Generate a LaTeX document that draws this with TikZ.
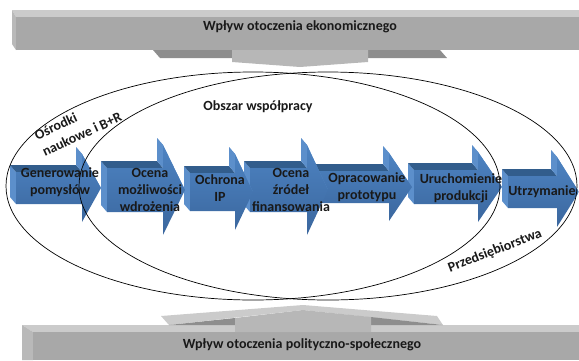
\documentclass[tikz,border=0pt]{standalone}
\usepackage{fontspec}
\setmainfont{Carlito}
\usepackage{xcolor}
\usepackage{tikz}

\definecolor{przod}{HTML}{4D83C2}
\definecolor{przodciemny}{HTML}{3B679E}
\definecolor{gora}{HTML}{325D8C}
\definecolor{bok}{HTML}{5C8FCB}
\definecolor{szary}{HTML}{A8A8A8}
\definecolor{szaryjasny}{HTML}{CBCBCB}
\definecolor{szarybok}{HTML}{B9B9B9}
\definecolor{szaryciemny}{HTML}{8E8E8E}
\definecolor{szarysrodek}{HTML}{B7B7B7}

\begin{document}
\begin{tikzpicture}[x=1pt,y=-1pt,
   napis/.style={font=\bfseries\fontsize{14}{17}\selectfont,align=center,text=black!90},
   etykieta/.style={font=\bfseries\fontsize{14}{18}\selectfont,text=black!90},
   elipsa/.style={draw=black,line width=0.7pt}]

  \useasboundingbox (0,0) rectangle (579,360);

  % pasek gorny
  \fill[szaryjasny] (12,10) -- (590,10) -- (590,17) -- (16,17) -- cycle;
  \fill[szarybok] (12,10) -- (16,17) -- (16,50) -- (12,44) -- cycle;
  \fill[szary] (16,17) rectangle (590,50);
  \fill[szaryciemny] (153,50) -- (232,50) -- (232,58) -- (160,58) -- cycle;
  \fill[szaryciemny] (368,50) -- (440,50) -- (447,58) -- (368,58) -- cycle;
  \fill[szarysrodek] (232,50) -- (368,50) -- (368,62) -- (300,67) -- (232,62) -- cycle;

  % pasek dolny
  \fill[szaryjasny] (22,325) -- (590,325) -- (590,332) -- (33,332) -- cycle;
  \fill[szarybok] (22,325) -- (33,332) -- (33,360) -- (22,360) -- cycle;
  \fill[szary] (33,332) rectangle (590,360);
  \fill[szaryjasny] (161,316) -- (303,305) -- (437,316) -- (443,325) -- (303,310) -- (169,325) -- cycle;
  \fill[szaryciemny] (169,325) -- (235,318) -- (235,325) -- cycle;
  \fill[szaryciemny] (371,317) -- (443,325) -- (371,325) -- cycle;
  \fill[szarysrodek] (235,318) -- (303,310) -- (371,317) -- (371,332) -- (235,332) -- cycle;

  % strzalki etapow (od prawej)
  \foreach \xl/\xb/\xt/\yc/\sh/\hh in {508/557/579/192/16/35, 414/478/502/187/17/35,
      318/389/412/187/16/34, 250/307/328/190/22/45, 190/235/253/192/19/38,
      107/163/185/190/22/45, 16/82/101/188/16/34}
  {
    \fill[bok] (\xl,{\yc-\sh}) -- (\xl,{\yc+\sh}) -- ({\xl-6},{\yc+\sh-7}) -- ({\xl-6},{\yc-\sh-7}) -- cycle;
    \fill[gora] (\xl,{\yc-\sh}) -- (\xb,{\yc-\sh}) -- ({\xb-6},{\yc-\sh-7}) -- ({\xl-6},{\yc-\sh-7}) -- cycle;
    \fill[bok] (\xb,{\yc-\sh}) -- (\xb,{\yc-\hh}) -- ({\xb-6},{\yc-\hh-7}) -- ({\xb-6},{\yc-\sh-7}) -- cycle;
    \fill[bok] (\xb,{\yc-\hh}) -- (\xt,\yc) -- ({\xt-6},{\yc-7}) -- ({\xb-6},{\yc-\hh-7}) -- cycle;
    \shade[top color=przod,bottom color=przodciemny] (\xl,{\yc-\sh}) -- (\xb,{\yc-\sh}) -- (\xb,{\yc-\hh})
      -- (\xt,\yc) -- (\xb,{\yc+\hh}) -- (\xb,{\yc+\sh}) -- (\xl,{\yc+\sh}) -- cycle;
  }

  % obszary
  \draw[elipsa] (253,186) ellipse [x radius=247, y radius=114];
  \draw[elipsa] (328,186) ellipse [x radius=249, y radius=114];

  \node[napis] (ekonom) at (300,27) {Wpływ otoczenia ekonomicznego};
  \node[napis] (polit) at (302,345) {Wpływ otoczenia polityczno-społecznego};

  \node[napis] (gen) at (60,182) {Generowanie\\pomysłów};
  \node[napis] (ocena) at (150,190) {Ocena\\możliwości\\wdrożenia};
  \node[napis] (ochr) at (220,188) {Ochrona\\IP};
  \node[napis] (zrodla) at (291,190) {Ocena\\źródeł\\finansowania};
  \node[napis] (proto) at (367,187) {Opracowanie\\prototypu};
  \node[napis] (uruch) at (461,188) {Uruchomienie\\produkcji};
  \node[napis] (utrz) at (542,192) {Utrzymanie};

  \node[etykieta,rotate=25,align=left] (osrodki) at (78,126) {Ośrodki\\naukowe i B+R};
  \node[etykieta] (obszar) at (258,107) {Obszar współpracy};
  \node[etykieta,rotate=21] (przeds) at (495,251) {Przedsiębiorstwa};
\end{tikzpicture}
\end{document}
